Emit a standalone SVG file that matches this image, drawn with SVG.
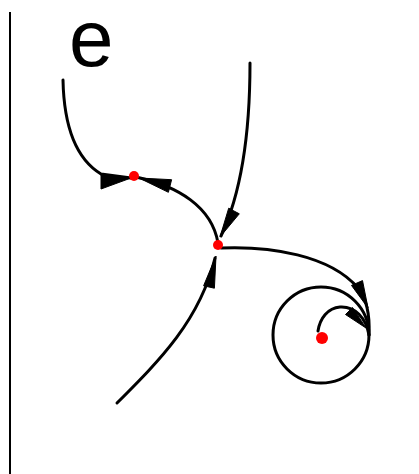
<svg xmlns="http://www.w3.org/2000/svg" width="419" height="474" viewBox="0 0 419 474">
<style>
.c{fill:none;stroke:#000;stroke-width:3;stroke-linecap:round}
.h{fill:#000;stroke:#000;stroke-width:1;stroke-linejoin:round}
.n{fill:#f00}
</style>
<rect width="419" height="474" fill="#fff"/>
<line x1="10" y1="12" x2="10" y2="474" stroke="#000" stroke-width="2"/>
<text x="69" y="66" font-family="'Liberation Sans', Arial, sans-serif" font-size="80" fill="#000">e</text>
<g id="connectors">
<path class="c" d="M63,80 C64,130 78,160 101,174 L131,178"/>
<polygon class="h" points="131,178 101,174 101,189"/>
<path class="c" d="M136,177 C178,186 212,207 218,243"/>
<polygon class="h" points="139,178 171.6,179.7 168.4,192.3"/>
<path class="c" d="M250,63 C250,120 245,185 221,236"/>
<polygon class="h" points="220,237 239.3,213.8 228.7,208.2"/>
<path class="c" d="M117,403 C160,360 200,320 215,258"/>
<polygon class="h" points="216,256 214.4,288.2 203.6,285.8"/>
<path class="c" d="M221,248 C270,246 330,255 358,288 C366,298 370,315 369,335"/>
<polygon class="h" points="368,308 362.5,280.6 351.5,285.4"/>
<circle class="c" cx="321" cy="335" r="48"/>
<path class="c" d="M318,331 C320,318 328,308 340,307 C355,306 366,318 369,335"/>
<polygon class="h" points="366,328 352.5,307.5 345.5,314.5"/>
</g>
<g id="nodeA"><circle class="n" cx="134" cy="176" r="5"/></g>
<g id="nodeB"><circle class="n" cx="218" cy="245" r="5"/></g>
<g id="nodeC"><circle class="n" cx="322" cy="338" r="6"/></g>
</svg>
